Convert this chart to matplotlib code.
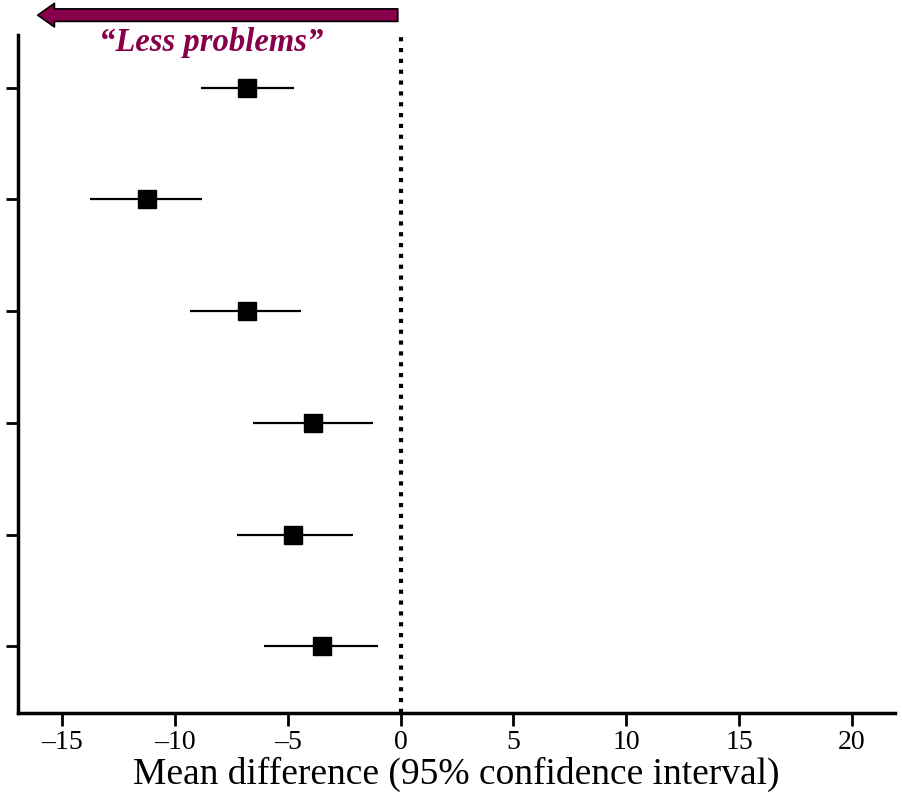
import matplotlib
matplotlib.use("Agg")
import matplotlib.pyplot as plt
from matplotlib.patches import FancyArrowPatch
from matplotlib.transforms import blended_transform_factory

# Mean differences with 95% confidence intervals, listed top to bottom
mean_diff = [-6.8, -11.25, -6.8, -3.9, -4.75, -3.5]
ci_low = [-8.85, -13.75, -9.35, -6.55, -7.25, -6.05]
ci_high = [-4.7, -8.8, -4.4, -1.2, -2.1, -1.0]
x_ticks = [-15, -10, -5, 0, 5, 10, 15, 20]
x_label = "Mean difference (95% confidence interval)"
arrow_label = "\u201cLess problems\u201d"

maroon = "#870049"
serif = ["Liberation Serif", "DejaVu Serif"]

fig = plt.figure(figsize=(9.02, 7.97), dpi=100)
ax = fig.add_axes([0.02, 0.105, 0.972, 0.851])

n = len(mean_diff)
ypos = list(range(n, 0, -1))
for y, m, lo, hi in zip(ypos, mean_diff, ci_low, ci_high):
    ax.plot([lo, hi], [y, y], color="black", lw=1.6, solid_capstyle="butt", zorder=2)
    ax.plot([m], [y], marker="s", ms=13, color="black", zorder=3)

ax.axvline(0, color="black", lw=3, linestyle=(0, (1, 1.6)), zorder=1)

ax.set_xlim(-16.95, 21.9)
ax.set_ylim(0.4, 6.47)
ax.set_xticks(x_ticks)
ax.set_xticklabels([f"\u2013{abs(t)}" if t < 0 else str(t) for t in x_ticks],
                   fontfamily=serif, fontsize=20)
ax.set_yticks(ypos)
ax.set_yticklabels([])
ax.tick_params(axis="both", width=2, length=9, color="black")
ax.tick_params(axis="x", pad=3)

for side in ("top", "right"):
    ax.spines[side].set_visible(False)
for side in ("left", "bottom"):
    ax.spines[side].set_linewidth(2.5)

ax.set_xlabel(x_label, fontfamily=serif, fontsize=27, labelpad=1)

# Direction arrow above the plot area: data x, figure-fraction y
trans = blended_transform_factory(ax.transData, fig.transFigure)
arrow = FancyArrowPatch(
    (0, 0.981), (-16.2, 0.981),
    arrowstyle="simple,head_width=17,head_length=12,tail_width=9",
    mutation_scale=1, facecolor=maroon, edgecolor="black", lw=1.2,
    transform=trans, clip_on=False,
)
arrow.set_figure(fig)
fig.patches.append(arrow)

fig.text(-8.4, 0.947, arrow_label, transform=trans, ha="center", va="center",
         fontfamily=serif, fontsize=23.5, fontweight="bold", fontstyle="italic",
         color=maroon)

fig.savefig("out.png", dpi=100)
